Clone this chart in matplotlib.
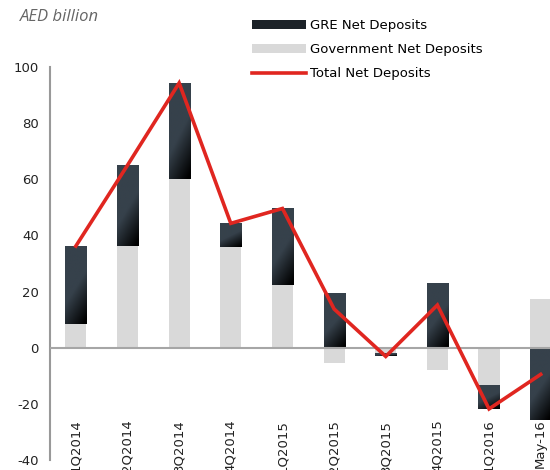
import numpy as np
import matplotlib
matplotlib.use("Agg")
import matplotlib.pyplot as plt
from matplotlib.colors import LinearSegmentedColormap
from matplotlib.patches import Patch
from matplotlib.lines import Line2D

plt.rcParams["axes.unicode_minus"] = False

periods = ["1Q2014", "2Q2014", "3Q2014", "4Q2014", "1Q2015",
           "2Q2015", "3Q2015", "4Q2015", "1Q2016", "May-16"]
gov = [8.5, 36.4, 60.0, 35.7, 22.5, -5.6, -2.0, -8.0, -13.2, 17.4]
gre = [27.9, 28.6, 34.3, 8.6, 27.1, 19.6, -0.9, 23.2, -8.8, -25.8]
total = [36.2, 65.0, 94.3, 44.3, 49.6, 13.8, -3.1, 15.2, -21.8, -9.5]

slate = "#36414b"
cmap = LinearSegmentedColormap.from_list("gre", [slate, slate, "#000000"])

fig = plt.figure(figsize=(5.5, 4.7), dpi=100)
ax = fig.add_axes([50/550, 10/470, 1 - 50/550, (460-67)/470])

x = np.arange(len(periods))
w = 0.41
gov = np.array(gov)
gre = np.array(gre)
# GRE stacked on top of gov when same sign, otherwise from zero
gre_base = np.where(np.sign(gre) == np.sign(gov), gov, 0)

ax.bar(x, gov, width=w, color="#d9d9d9", zorder=2)
bars = ax.bar(x, gre, width=w, bottom=gre_base, color=slate, zorder=3)

# gradient fill for GRE bars
yy, xx = np.mgrid[0:1:100j, 0:1:40j]
grad = np.clip(0.8*yy + 0.35*xx - 0.1, 0, 1)
for b in bars:
    x0, y0 = b.get_x(), b.get_y()
    x1, y1 = x0 + b.get_width(), y0 + b.get_height()
    lo, hi = min(y0, y1), max(y0, y1)
    im = ax.imshow(grad, cmap=cmap, extent=[x0, x1, lo, hi], origin="upper",
                   aspect="auto", zorder=3.5, interpolation="bilinear")
    im.set_clip_path(b)

ax.plot(x, total, color="#e02620", lw=2.6, zorder=5, solid_joinstyle="miter")
ax.axhline(0, color="#a6a6a6", lw=1.5, zorder=4)

ax.set_xlim(-0.5, 9.18)
ax.set_ylim(-40, 100)
ax.set_yticks(range(-40, 101, 20))
ax.set_xticks(x)
ax.set_xticklabels(periods, rotation=90, va="top")
ax.tick_params(axis="x", length=0, pad=-29, labelsize=9.5, colors="#222222")
ax.tick_params(axis="y", length=0, pad=8, labelsize=9.5, colors="#222222")
for s in ["top", "right", "bottom"]:
    ax.spines[s].set_visible(False)
ax.spines["left"].set_color("#999999")
ax.spines["left"].set_linewidth(1.5)

fig.text(20/550, 1 - 17/470, "AED billion", family="Open Sans", style="italic",
         fontsize=12, color="#666666", va="center", ha="left")

handles = [Patch(facecolor="#1c2228", edgecolor="none"),
           Patch(facecolor="#d9d9d9", edgecolor="none"),
           Line2D([0], [0], color="#e02620", lw=2.6)]
labels = ["GRE Net Deposits", "Government Net Deposits", "Total Net Deposits"]
fig.legend(handles, labels, loc="upper left", bbox_to_anchor=(252/550, 1 - 19/470),
           frameon=False, borderpad=0, borderaxespad=0, handlelength=4.1,
           handleheight=0.7, handletextpad=0.3, labelspacing=0.85, fontsize=9.5)

fig.savefig("out.png", dpi=100)
